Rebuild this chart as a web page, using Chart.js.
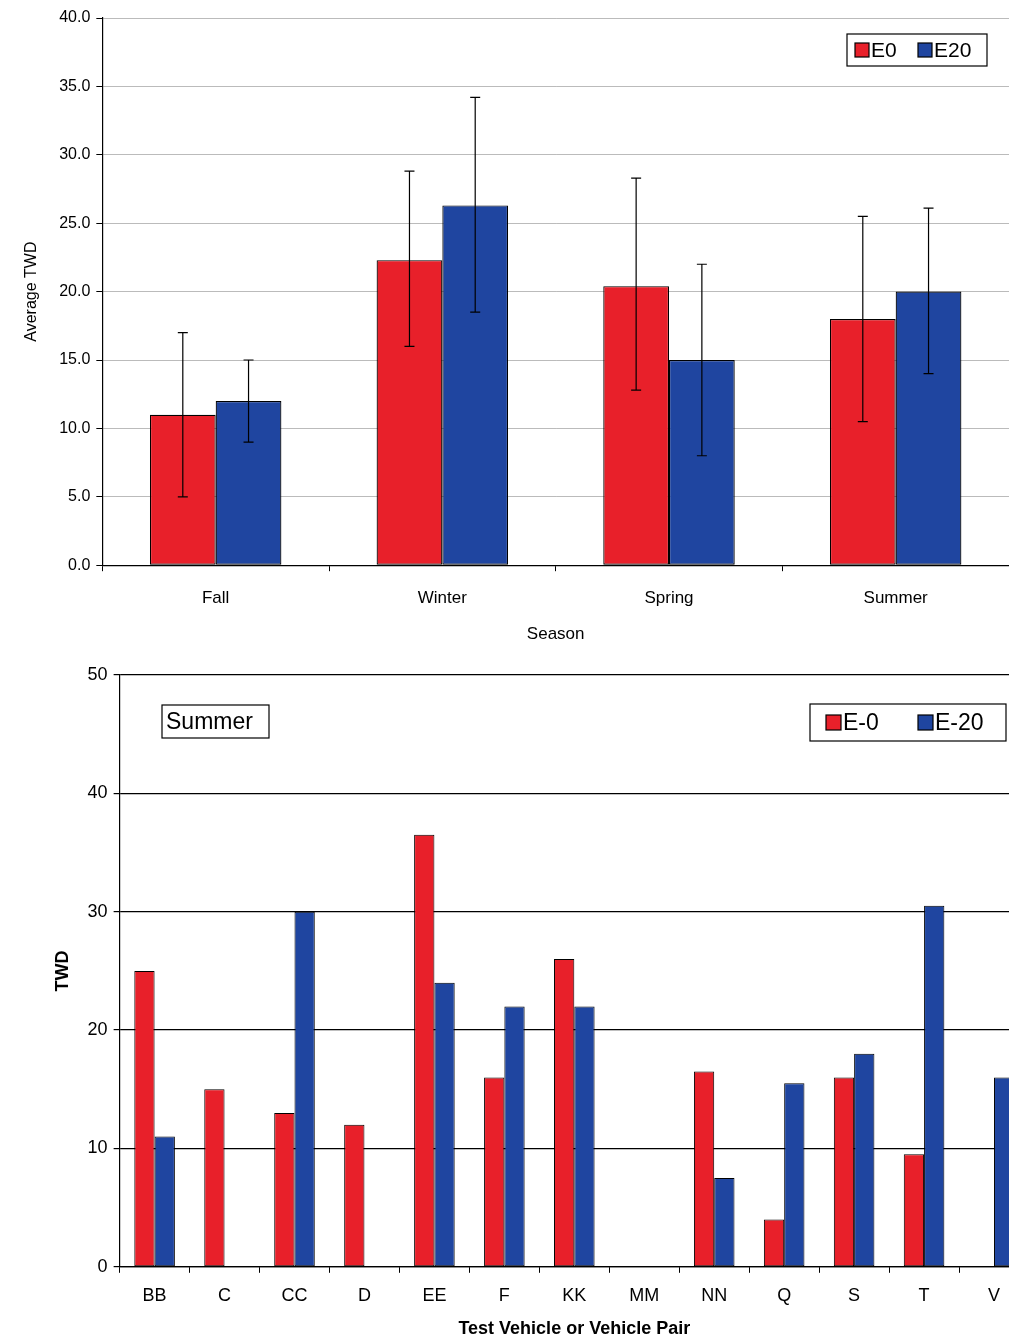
<!DOCTYPE html>
<html><head><meta charset="utf-8">
<script src="https://cdn.jsdelivr.net/npm/chart.js@4"></script>
<style>
html,body{margin:0;padding:0;background:#fff;overflow:hidden;width:1009px;height:1344px}
#c1{position:absolute;left:0;top:0}
#c2{position:absolute;left:0;top:655px}
</style></head><body>
<canvas id="c1" width="1009" height="650"></canvas>
<canvas id="c2" width="1029" height="689"></canvas>
<script>
const seasons=["Fall","Winter","Spring","Summer"];
const e0Avg=[11.0,22.3,20.4,18.0];
const e20Avg=[12.0,26.3,15.0,20.0];
const e0Lo=[5.0,16.0,12.8,10.5];
const e0Hi=[17.0,28.8,28.3,25.5];
const e20Lo=[9.0,18.5,8.0,14.0];
const e20Hi=[15.0,34.2,22.0,26.1];

const vehicles=["BB","C","CC","D","EE","F","KK","MM","NN","Q","S","T","V"];
const summerE0=[25,15,13,12,36.5,16,26,0,16.5,4,16,9.5,0];
const summerE20=[11,0,30,0,24,22,22,0,7.5,15.5,18,30.5,16];

const RED="#e8202a", BLUE="#1f45a0";
const FONT="'Liberation Sans', Arial, sans-serif";
Chart.defaults.font.family=FONT;
Chart.defaults.color="#000";
Chart.defaults.animation=false;

const errPlugin={id:'err',afterDatasetsDraw(ch){
  const ctx=ch.ctx,y=ch.scales.y;
  [[e0Lo,e0Hi],[e20Lo,e20Hi]].forEach((p,di)=>{
    ch.getDatasetMeta(di).data.forEach((b,i)=>{
      const yl=y.getPixelForValue(p[0][i]),yh=y.getPixelForValue(p[1][i]);
      ctx.save();ctx.strokeStyle="#000";ctx.lineWidth=1.2;ctx.beginPath();
      ctx.moveTo(b.x,yl);ctx.lineTo(b.x,yh);
      ctx.moveTo(b.x-5,yl);ctx.lineTo(b.x+5,yl);
      ctx.moveTo(b.x-5,yh);ctx.lineTo(b.x+5,yh);
      ctx.stroke();ctx.restore();
    });
  });
}};
function legendPlugin(opt){return {id:'lg'+opt.id,afterDraw(ch){
  const ctx=ch.ctx;ctx.save();
  ctx.strokeStyle="#000";ctx.lineWidth=1.2;
  ctx.strokeRect(opt.x,opt.y,opt.w,opt.h);
  ctx.font=opt.size+"px "+FONT;ctx.textBaseline="middle";ctx.fillStyle="#000";
  opt.items.forEach(it=>{
    if(it.color){ctx.fillStyle=it.color;ctx.fillRect(it.x,opt.y+opt.h/2-opt.sq/2,opt.sq,opt.sq);
      ctx.strokeRect(it.x,opt.y+opt.h/2-opt.sq/2,opt.sq,opt.sq);ctx.fillStyle="#000";
      ctx.fillText(it.text,it.x+opt.sq+2,opt.y+opt.h/2+1);}
    else ctx.fillText(it.text,it.x,opt.y+opt.h/2+1);
  });
  ctx.restore();}};}

new Chart(document.getElementById('c1'),{type:'bar',
 data:{labels:seasons,datasets:[
  {label:"E0",data:e0Avg,backgroundColor:RED,borderColor:"#000",borderWidth:1.2,borderSkipped:false},
  {label:"E20",data:e20Avg,backgroundColor:BLUE,borderColor:"#000",borderWidth:1.2,borderSkipped:false}]},
 options:{responsive:false,layout:{padding:{top:18,right:0,left:10,bottom:1}},
  datasets:{bar:{barPercentage:1,categoryPercentage:0.58}},
  plugins:{legend:{display:false},tooltip:{enabled:false}},
  scales:{
   y:{min:0,max:40,ticks:{stepSize:5,callback:v=>v.toFixed(1),font:{size:16},padding:6},
      grid:{color:"#bbb",tickColor:"#000",tickLength:6},border:{color:"#000",width:1.2},
      title:{display:true,text:"Average TWD",font:{size:16},padding:{top:12,bottom:12}}},
   x:{offset:true,grid:{offset:true,display:true,drawOnChartArea:false,tickColor:"#000",tickLength:6},
      border:{color:"#000",width:1.2},ticks:{font:{size:17},padding:17},
      title:{display:true,text:"Season",font:{size:17},padding:{top:-1,bottom:4}}}}},
 plugins:[errPlugin,legendPlugin({id:1,x:847,y:34,w:140,h:32,size:21,sq:14,items:[
   {color:RED,text:"E0",x:855},{color:BLUE,text:"E20",x:918}]})]
});

new Chart(document.getElementById('c2'),{type:'bar',
 data:{labels:vehicles,datasets:[
  {label:"E-0",data:summerE0,backgroundColor:RED,borderColor:"#000",borderWidth:1,borderSkipped:false},
  {label:"E-20",data:summerE20,backgroundColor:BLUE,borderColor:"#000",borderWidth:1,borderSkipped:false}]},
 options:{responsive:false,layout:{padding:{top:20,right:0,left:45,bottom:4}},
  datasets:{bar:{barPercentage:1,categoryPercentage:0.58}},
  plugins:{legend:{display:false},tooltip:{enabled:false}},
  scales:{
   y:{min:0,max:50,ticks:{stepSize:10,font:{size:18},padding:6},
      grid:{color:"#000",lineWidth:1.2,tickColor:"#000",tickLength:6},border:{color:"#000",width:1.2},
      title:{display:true,text:"TWD",font:{size:18,weight:"bold"},padding:{top:7,bottom:8}}},
   x:{offset:true,grid:{offset:true,display:true,drawOnChartArea:false,tickColor:"#000",tickLength:6},
      border:{color:"#000",width:1.2},ticks:{font:{size:18},padding:12},
      title:{display:true,text:"Test Vehicle or Vehicle Pair",font:{size:18,weight:"bold"},padding:{top:0,bottom:0}}}}},
 plugins:[legendPlugin({id:2,x:162,y:50,w:107,h:33,size:23,sq:0,items:[{text:"Summer",x:166}]}),
  legendPlugin({id:3,x:810,y:49,w:196,h:37,size:23,sq:15,items:[
   {color:RED,text:"E-0",x:826},{color:BLUE,text:"E-20",x:918}]})]
});
</script>
</body></html>
